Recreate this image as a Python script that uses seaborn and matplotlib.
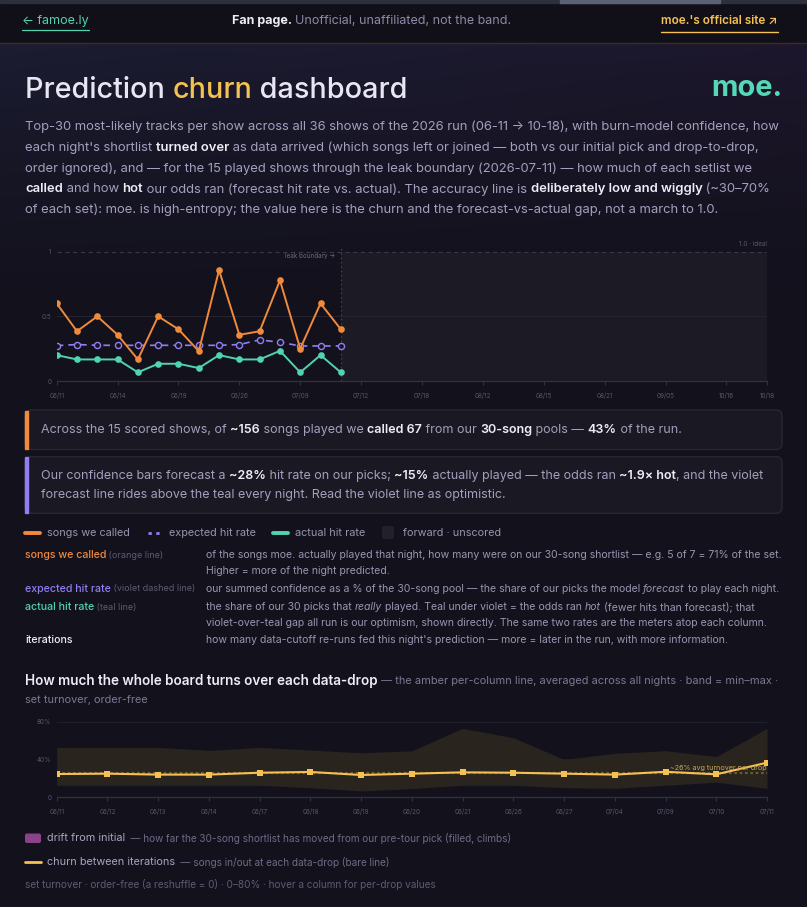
import numpy as np
import pandas as pd
import seaborn as sns
import matplotlib
matplotlib.use("Agg")
import matplotlib.pyplot as plt
from matplotlib.patches import Rectangle, FancyBboxPatch

# ---------------- data ----------------
show_dates = ["06/11", "06/12", "06/13", "06/14", "06/17", "06/18", "06/19", "06/20", "06/21",
              "06/26", "06/27", "07/04", "07/09", "07/10", "07/11", "07/12", "07/14", "07/15",
              "07/18", "07/19", "08/11", "08/12", "08/13", "08/14", "08/15", "08/16", "08/20",
              "08/21", "08/22", "09/04", "09/05", "09/06", "10/15", "10/16", "10/17", "10/18"]
songs_played = [10, 13, 10, 14, 12, 8, 10, 13, 7, 14, 13, 9, 8, 10, 5]
songs_called = [6, 5, 5, 5, 2, 4, 4, 3, 6, 5, 5, 7, 2, 6, 2]
pool_size = 30
expected_hit = [0.274, 0.282, 0.276, 0.276, 0.276, 0.276, 0.276, 0.276, 0.276, 0.282,
                0.318, 0.300, 0.271, 0.271, 0.271]
leak_index = 14

drop_dates = ["06/11", "06/12", "06/13", "06/14", "06/17", "06/18", "06/19", "06/20",
              "06/21", "06/26", "06/27", "07/04", "07/09", "07/10", "07/11"]
churn_mean = [24.6, 25.0, 24.0, 24.0, 26.0, 26.8, 23.6, 25.0, 26.4, 26.0, 25.0, 24.0, 27.0, 24.3, 36.6]
churn_max = [52.8, 52.8, 52.8, 49.6, 52.8, 50.0, 47.0, 49.3, 72.9, 63.0, 40.0, 46.5, 49.3, 43.0, 72.9]
churn_min = [12.7, 12.7, 12.7, 12.7, 12.7, 10.2, 6.7, 9.2, 12.7, 12.7, 10.2, 9.5, 12.7, 16.0, 9.5]
churn_avg = 26

# ---------------- style ----------------
BG = "#13111c"
HEAD = "#110f18"
TXT = "#a49fbd"
WHITE = "#efecf7"
DIM = "#5d5872"
ORANGE = "#f08a3c"
VIOLET = "#8f7ff2"
TEAL = "#4fd4ae"
AMBER = "#f4c152"

sns.set_theme(style="dark")
plt.rcParams['font.family'] = ['Inter', 'DejaVu Sans']
plt.rcParams['axes.unicode_minus'] = False

W, H = 807, 907
fig = plt.figure(figsize=(W / 100, H / 100), dpi=100, facecolor=BG)
bg = fig.add_axes([0, 0, 1, 1], zorder=0)
bg.set_xlim(0, W)
bg.set_ylim(H, 0)
bg.axis('off')
bg.set_facecolor(BG)
bg.add_patch(Rectangle((0, 0), W, H, color=BG, zorder=0))

# gradient behind the title area
gy = np.linspace(0, 1, 200)[:, None]
gx = np.linspace(0, 1, 300)[None, :]
c_top_l = np.array([0x1b, 0x1d, 0x32]) / 255
c_top_r = np.array([0x1d, 0x17, 0x2d]) / 255
c_bot = np.array([0x13, 0x11, 0x1c]) / 255
top = c_top_l[None, None, :] * (1 - gx[..., None]) + c_top_r[None, None, :] * gx[..., None]
img = top * (1 - gy[..., None] ** 0.8) + c_bot[None, None, :] * (gy[..., None] ** 0.8)
bg.imshow(img, extent=(0, W, 300, 43), aspect='auto', zorder=1, interpolation='bilinear')

# header
bg.add_patch(Rectangle((0, 0), W, 42, color=HEAD, zorder=2))
bg.add_patch(Rectangle((0, 0), W, 3, color="#2c2f3c", zorder=3))
bg.add_patch(Rectangle((560, 0), 160, 3, color="#5a6274", zorder=3))
bg.plot([0, W], [42.5, 42.5], color="#3a2f22", lw=1, zorder=3)

R = fig.canvas.get_renderer()


def tw(s, size, weight='normal', style='normal'):
    t = bg.text(0, 0, '|' + s + '|', fontsize=size, fontweight=weight, fontstyle=style)
    w1 = t.get_window_extent(R).width
    t.remove()
    t = bg.text(0, 0, '||', fontsize=size, fontweight=weight, fontstyle=style)
    w2 = t.get_window_extent(R).width
    t.remove()
    return (w1 - w2) * 100 / fig.dpi


def runs(x, y, parts, size, zorder=5):
    for p in parts:
        txt, color = p[0], p[1]
        weight = p[2] if len(p) > 2 else 'normal'
        style = p[3] if len(p) > 3 else 'normal'
        sz = p[4] if len(p) > 4 else size
        bg.text(x, y, txt, fontsize=sz, color=color, fontweight=weight, fontstyle=style,
                va='center', ha='left', zorder=zorder)
        x += tw(txt, sz, weight, style)
    return x


PT = 0.72  # px -> pt

# header texts
x_end = runs(22, 21, [("← famoe.ly", TEAL)], 12.5 * PT)
bg.plot([22, x_end], [29.5, 29.5], color=TEAL, lw=0.9, zorder=5)
runs(232, 21, [("Fan page. ", WHITE, 'bold'), ("Unofficial, unaffiliated, not the band.", "#8f89a8")], 12.5 * PT)
x_end = runs(661, 21, [("moe.'s official site ↗", AMBER, 'semibold')], 11.8 * PT)
bg.plot([661, x_end], [31.5, 31.5], color=AMBER, lw=1.0, zorder=5)

# title
runs(25, 90, [("Prediction ", "#e9e6f3", 'medium'), ("churn", AMBER, 'medium'),
              (" dashboard", "#e9e6f3", 'medium')], 28.8 * PT)
bg.text(782, 88, "moe.", fontsize=29 * PT, color="#55d8b6", fontweight='bold', ha='right', va='center', zorder=5)

# paragraph
psz = 13.0 * PT
lines = [
    [("Top-30 most-likely tracks per show across all 36 shows of the 2026 run (06-11 → 10-18), with burn-model confidence, how", TXT)],
    [("each night's shortlist ", TXT), ("turned over", WHITE, 'semibold'),
     (" as data arrived (which songs left or joined — both vs our initial pick and drop-to-drop,", TXT)],
    [("order ignored), and — for the 15 played shows through the leak boundary (2026-07-11) — how much of each setlist we", TXT)],
    [("called", WHITE, 'semibold'), (" and how ", TXT), ("hot", WHITE, 'semibold'),
     (" our odds ran (forecast hit rate vs. actual). The accuracy line is ", TXT),
     ("deliberately low and wiggly", WHITE, 'semibold'), (" (~30–70%", TXT)],
    [("of each set): moe. is high-entropy; the value here is the churn and the forecast-vs-actual gap, not a march to 1.0.", TXT)],
]
for i, ln in enumerate(lines):
    runs(25, 127 + i * 20.8, ln, psz)

# ---------------- top chart ----------------
ax = fig.add_axes([56.7 / W, (H - 381) / H, (767 - 56.7) / W, 135 / H], zorder=3)
ax.set_facecolor("none")
n_shows = len(show_dates)
ax.set_xlim(0, n_shows - 1)
ax.set_ylim(0, 1.044)
ax.axvspan(leak_index, n_shows - 1, ymin=0, ymax=1 / 1.044, color="#1c1a25", zorder=0, lw=0)
ax.axhline(1.0, color="#3a3747", lw=0.8, ls=(0, (4, 3)), zorder=1)
ax.axhline(0.5, color="#262331", lw=0.8, zorder=1)
ax.axvline(leak_index, ymax=1.0, color="#4a4659", lw=0.9, ls=(0, (1, 2.5)), zorder=1)
ax.text(leak_index - 0.25, 0.965, "leak boundary →", fontsize=6.3 * PT, color="#6d6883", ha='right', va='center')
ax.text(n_shows - 1, 1.035, "1.0 · ideal", fontsize=6.3 * PT, color="#5a566b", ha='right', va='bottom')

played_idx = list(range(len(songs_played)))
df_top = pd.DataFrame({
    "idx": played_idx,
    "called": [c / p for c, p in zip(songs_called, songs_played)],
    "expected": expected_hit,
    "actual": [c / pool_size for c in songs_called],
})
sns.lineplot(data=df_top, x="idx", y="called", ax=ax, color=ORANGE, lw=1.4, marker='o',
             markersize=4.8, markeredgewidth=0, zorder=5)
sns.lineplot(data=df_top, x="idx", y="expected", ax=ax, color=VIOLET, lw=1.2, linestyle=(0, (4, 3)),
             marker='o', markersize=4.4, markerfacecolor="#16141f", markeredgecolor=VIOLET,
             markeredgewidth=1.0, zorder=4)
sns.lineplot(data=df_top, x="idx", y="actual", ax=ax, color=TEAL, lw=1.4, marker='o',
             markersize=4.8, markeredgewidth=0, zorder=5)

tick_pos = list(range(0, n_shows, 3)) + [n_shows - 1]
ax.set_xticks(tick_pos)
ax.set_xticklabels([show_dates[i] for i in tick_pos])
ax.set_yticks([0, 0.5, 1])
ax.set_yticklabels(["0", "0.5", "1"])
ax.tick_params(axis='x', colors="#34313f", labelcolor="#5a566c", labelsize=6.3 * PT, length=3, width=0.8, pad=5, bottom=True)
ax.tick_params(axis='y', labelcolor="#5a566c", labelsize=6.3 * PT, length=0, pad=4)
ax.set_xlabel("")
ax.set_ylabel("")
for s in ["top", "right", "left"]:
    ax.spines[s].set_visible(False)
ax.spines["bottom"].set_color("#34313f")
ax.spines["bottom"].set_linewidth(0.9)
ax.grid(False)

# ---------------- callouts ----------------
def callout(y0, y1, accent):
    bg.add_patch(FancyBboxPatch((25, y0), 757, y1 - y0, boxstyle="round,pad=0,rounding_size=6",
                                fc="#1a1822", ec="#2c2936", lw=0.9, zorder=2))
    bg.add_patch(Rectangle((25, y0 + 0.5), 2.6, y1 - y0 - 1, color=accent, zorder=3))


csz = 12.5 * PT
callout(410, 449.5, ORANGE)
runs(41, 430, [("Across the 15 scored shows, of ", TXT), ("~156", WHITE, 'semibold'),
               (" songs played we ", TXT), ("called 67", WHITE, 'semibold'), (" from our ", TXT),
               ("30-song", WHITE, 'semibold'), (" pools — ", TXT), ("43%", WHITE, 'semibold'),
               (" of the run.", TXT)], csz)
callout(456.7, 513.3, VIOLET)
runs(41, 476, [("Our confidence bars forecast a ", TXT), ("~28%", WHITE, 'semibold'),
               (" hit rate on our picks; ", TXT), ("~15%", WHITE, 'semibold'),
               (" actually played — the odds ran ", TXT), ("~1.9× hot", WHITE, 'semibold'),
               (", and the violet", TXT)], csz)
runs(41, 495, [("forecast line rides above the teal every night. Read the violet line as optimistic.", TXT)], csz)

# ---------------- legend row ----------------
lsz = 10.9 * PT
LG = "#9893ae"
bg.plot([25, 40], [532.5, 532.5], color=ORANGE, lw=2.8, solid_capstyle='round', zorder=4)
runs(47, 532.5, [("songs we called", LG)], lsz)
bg.plot([148, 162], [532.5, 532.5], color=VIOLET, lw=2.0, ls=(0, (1.2, 1.6)), zorder=4)
runs(169, 532.5, [("expected hit rate", LG)], lsz)
bg.plot([273, 288], [532.5, 532.5], color=TEAL, lw=2.8, solid_capstyle='round', zorder=4)
runs(295, 532.5, [("actual hit rate", LG)], lsz)
bg.add_patch(FancyBboxPatch((382, 526), 12, 13, boxstyle="round,pad=0,rounding_size=2",
                            fc="#22202b", ec="none", zorder=4))
runs(403, 532.5, [("forward · unscored", LG)], lsz)

# ---------------- definitions ----------------
dsz = 10.5 * PT
lab = 10.6 * PT
ssz = 9.0 * PT
DT = "#9a95b0"
runs(25, 555.5, [("songs we called", ORANGE, 'medium'), (" (orange line)", "#5f5a74", 'normal', 'normal', ssz)], lab)
runs(206, 555.5, [("of the songs moe. actually played that night, how many were on our 30-song shortlist — e.g. 5 of 7 = 71% of the set.", DT)], dsz)
runs(206, 571, [("Higher = more of the night predicted.", DT)], dsz)
runs(25, 589, [("expected hit rate", VIOLET, 'medium'), (" (violet dashed line)", "#5f5a74", 'normal', 'normal', ssz)], lab)
runs(206, 589, [("our summed confidence as a % of the 30-song pool — the share of our picks the model ", DT),
                ("forecast", DT, 'normal', 'italic'), (" to play each night.", DT)], dsz)
runs(25, 607.5, [("actual hit rate", TEAL, 'medium'), (" (teal line)", "#5f5a74", 'normal', 'normal', ssz)], lab)
runs(206, 607.5, [("the share of our 30 picks that ", DT), ("really", DT, 'normal', 'italic'),
                  (" played. Teal under violet = the odds ran ", DT), ("hot", DT, 'normal', 'italic'),
                  (" (fewer hits than forecast); that", DT)], dsz)
runs(206, 622.5, [("violet-over-teal gap all run is our optimism, shown directly. The same two rates are the meters atop each column.", DT)], dsz)
runs(25, 640, [("iterations", WHITE, 'medium')], lab)
runs(206, 640, [("how many data-cutoff re-runs fed this night's prediction — more = later in the run, with more information.", DT)], dsz)

# ---------------- heading 2 ----------------
runs(25, 681, [("How much the whole board turns over each data-drop", WHITE, 'semibold', 'normal', 13.5 * PT),
               (" — the amber per-column line, averaged across all nights · band = min–max ·", "#7d7893", 'normal', 'normal', 11.0 * PT)], 13.5 * PT)
runs(25, 700, [("set turnover, order-free", "#7d7893")], 11.0 * PT)

# ---------------- bottom chart ----------------
ax2 = fig.add_axes([56.7 / W, (H - 797.3) / H, (767 - 56.7) / W, 81.3 / H], zorder=3)
ax2.set_facecolor("none")
n_drops = len(drop_dates)
ax2.set_xlim(0, n_drops - 1)
ax2.set_ylim(0, 86)
ax2.axhline(40, color="#211f2b", lw=0.8, zorder=0)
ax2.axhline(80, color="#211f2b", lw=0.8, zorder=0)
didx = np.arange(n_drops)
ax2.fill_between(didx, churn_min, churn_max, color="#2a241f", lw=0, zorder=1)
ax2.axhline(churn_avg, color="#6c5a30", lw=1.6, ls=(0, (1.2, 1.2)), zorder=2)
df_b = pd.DataFrame({"idx": didx, "churn": churn_mean})
sns.lineplot(data=df_b, x="idx", y="churn", ax=ax2, color=AMBER, lw=1.5, marker='s',
             markersize=4, markeredgewidth=0, zorder=4)
ax2.text(n_drops - 1, 31.5, "~26% avg turnover per drop", fontsize=7.2 * PT, color="#c7a75a",
         ha='right', va='center', zorder=5)
ax2.set_xticks(didx)
ax2.set_xticklabels(drop_dates)
ax2.set_yticks([0, 40, 80])
ax2.set_yticklabels(["0", "40%", "80%"])
ax2.tick_params(axis='x', colors="#34313f", labelcolor="#5a566c", labelsize=6.3 * PT, length=3, width=0.8, pad=5, bottom=True)
ax2.tick_params(axis='y', labelcolor="#5a566c", labelsize=6.3 * PT, length=0, pad=4)
ax2.set_xlabel("")
ax2.set_ylabel("")
for s in ["top", "right", "left"]:
    ax2.spines[s].set_visible(False)
ax2.spines["bottom"].set_color("#34313f")
ax2.spines["bottom"].set_linewidth(0.9)
ax2.grid(False)

# ---------------- bottom legend ----------------
bg.add_patch(FancyBboxPatch((25, 833.5), 16, 9.5, boxstyle="round,pad=0,rounding_size=2",
                            fc="#8a4388", ec="none", zorder=4))
runs(47, 838.3, [("drift from initial", "#a9a4c0", 'normal', 'normal', 10.9 * PT),
                 ("  — how far the 30-song shortlist has moved from our pre-tour pick (filled, climbs)", "#6f6a86", 'normal', 'normal', 10.0 * PT)], 10.9 * PT)
bg.plot([25, 41], [862.3, 862.3], color=AMBER, lw=2.0, zorder=4)
runs(47, 862.3, [("churn between iterations", "#a9a4c0", 'normal', 'normal', 10.9 * PT),
                 ("  — songs in/out at each data-drop (bare line)", "#6f6a86", 'normal', 'normal', 10.0 * PT)], 10.9 * PT)
runs(25, 885, [("set turnover · order-free (a reshuffle = 0) · 0–80% · hover a column for per-drop values", "#5f5a74")], 10.0 * PT)

fig.savefig("out.png", dpi=100, facecolor=BG)
